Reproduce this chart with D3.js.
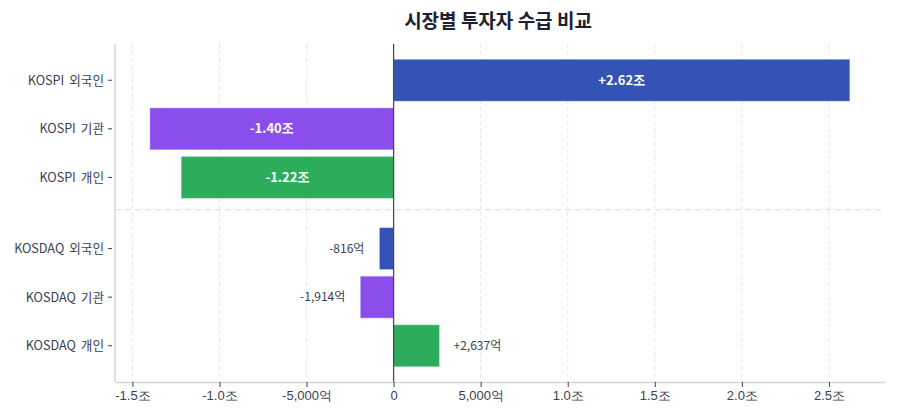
<!DOCTYPE html>
<html>
<head>
<meta charset="utf-8">
<script src="https://cdn.jsdelivr.net/npm/d3@7"></script>
<style>
  body { margin: 0; background: #fff; }
  svg { font-family: "Noto Sans CJK KR", "Noto Sans", sans-serif; }
  .title { font-size: 19px; font-weight: 700; fill: #1b2130; }
  .tick text { font-size: 13px; fill: #3a4150; }
</style>
</head>
<body>
<svg width="900" height="420"></svg>
<script>
// values in 억원
var markets = ["KOSPI", "KOSDAQ"];
var investors = ["외국인", "기관", "개인"];
var kospiValues = [26200, -14000, -12200];
var kosdaqValues = [-816, -1914, 2637];
var xTicks = [-15000, -10000, -5000, 0, 5000, 10000, 15000, 20000, 25000];
var colors = { "외국인": "#3353b6", "기관": "#8b4eec", "개인": "#2dac5b" };

var rows = [];
[kospiValues, kosdaqValues].forEach(function(vals, m) {
  vals.forEach(function(v, i) {
    rows.push({ market: markets[m], investor: investors[i], value: v });
  });
});

var margin = { top: 44, right: 15, bottom: 38, left: 115 },
    width = 900 - margin.left - margin.right,
    height = 420 - margin.top - margin.bottom;

var svg = d3.select("svg");

svg.append("text")
    .attr("class", "title")
    .attr("x", margin.left + width / 2 - 2)
    .attr("y", 28)
    .attr("text-anchor", "middle")
    .text("시장별 투자자 수급 비교");

var g = svg.append("g").attr("transform", "translate(" + [margin.left, margin.top] + ")");

var x = d3.scaleLinear().domain([-16000, 28220]).range([0, width]);

var yOuter = d3.scaleBand().domain(markets).range([0, height])
    .paddingInner(0.134).paddingOuter(0.071);
var yInner = d3.scaleBand().domain(investors).range([0, yOuter.bandwidth()])
    .paddingInner(0.136).paddingOuter(0.068);

function yOf(d) { return yOuter(d.market) + yInner(d.investor); }

var locale = d3.formatLocale({ decimal: ".", thousands: ",", grouping: [3], currency: ["", ""], minus: "-" });
var comma = locale.format(",");

function fmt(v) {
  if (v === 0) return "0";
  if (Math.abs(v) >= 10000) return (v / 10000).toFixed(1) + "조";
  return comma(v) + "억";
}
function fmtLabel(d) {
  var s = d.value > 0 ? "+" : "";
  if (Math.abs(d.value) >= 10000) return s + (d.value / 10000).toFixed(2) + "조";
  return s + comma(d.value) + "억";
}

// grid
g.append("g").selectAll("line")
    .data(xTicks.filter(function(t){ return t !== 0; }))
    .enter().append("line")
    .attr("x1", x).attr("x2", x)
    .attr("y1", 0).attr("y2", height)
    .attr("stroke", "#e6e8ec")
    .attr("stroke-dasharray", "4,3");

// separator between markets
var sepY = yOuter("KOSPI") + yOuter.bandwidth() + 8;
g.append("line")
    .attr("x1", 0).attr("x2", width)
    .attr("y1", sepY).attr("y2", sepY)
    .attr("stroke", "#dde0e6")
    .attr("stroke-width", 1.2)
    .attr("stroke-dasharray", "6,4");

// bars
g.append("g").selectAll("rect")
    .data(rows)
    .enter().append("rect")
    .attr("x", function(d){ return x(Math.min(0, d.value)); })
    .attr("y", yOf)
    .attr("width", function(d){ return Math.abs(x(d.value) - x(0)); })
    .attr("height", yInner.bandwidth())
    .attr("fill", function(d){ return colors[d.investor]; })
    .attr("stroke", "rgba(255,255,255,0.35)")
    .attr("stroke-width", 1);

// value labels
var big = function(d){ return Math.abs(d.value) >= 10000; };
g.append("g").selectAll("text")
    .data(rows)
    .enter().append("text")
    .attr("x", function(d){
      if (big(d)) return (x(d.value) + x(0)) / 2;
      return d.value < 0 ? x(d.value) - 15 : x(d.value) + 14;
    })
    .attr("y", function(d){ return yOf(d) + yInner.bandwidth() / 2; })
    .attr("dy", "0.35em")
    .attr("text-anchor", function(d){
      if (big(d)) return "middle";
      return d.value < 0 ? "end" : "start";
    })
    .style("font-size", function(d){ return big(d) ? "13px" : "12px"; })
    .style("font-weight", function(d){ return big(d) ? 700 : 400; })
    .style("fill", function(d){ return big(d) ? "#fff" : "#3a4150"; })
    .text(fmtLabel);

// zero line
g.append("line")
    .attr("x1", x(0)).attr("x2", x(0))
    .attr("y1", 0).attr("y2", height)
    .attr("stroke", "#454b57")
    .attr("stroke-width", 1.3);

// x axis
var xAxis = g.append("g")
    .attr("transform", "translate(0," + height + ")")
    .call(d3.axisBottom(x).tickValues(xTicks).tickFormat(fmt).tickSize(5).tickPadding(4).tickSizeOuter(0));
xAxis.select(".domain").attr("stroke", "#d3d8e0").attr("stroke-width", 1.5);
xAxis.selectAll(".tick line").attr("stroke", "#3a4150");

// y axis
var yAxis = g.append("g");
yAxis.append("line")
    .attr("x1", 0).attr("x2", 0).attr("y1", 0).attr("y2", height)
    .attr("stroke", "#d3d8e0").attr("stroke-width", 1.5);
var yt = yAxis.selectAll(".tick")
    .data(rows)
    .enter().append("g")
    .attr("class", "tick")
    .attr("transform", function(d){ return "translate(0," + (yOf(d) + yInner.bandwidth() / 2) + ")"; });
yt.append("line").attr("x1", -7).attr("x2", -3).attr("stroke", "#3a4150");
var yl = yt.append("text")
    .attr("x", -11)
    .attr("dy", "0.35em")
    .attr("text-anchor", "end")
    .style("font-size", "12.6px");
yl.append("tspan").text(function(d){ return d.market; });
yl.append("tspan").attr("dx", 5).text(function(d){ return d.investor; });
</script>
</body>
</html>
